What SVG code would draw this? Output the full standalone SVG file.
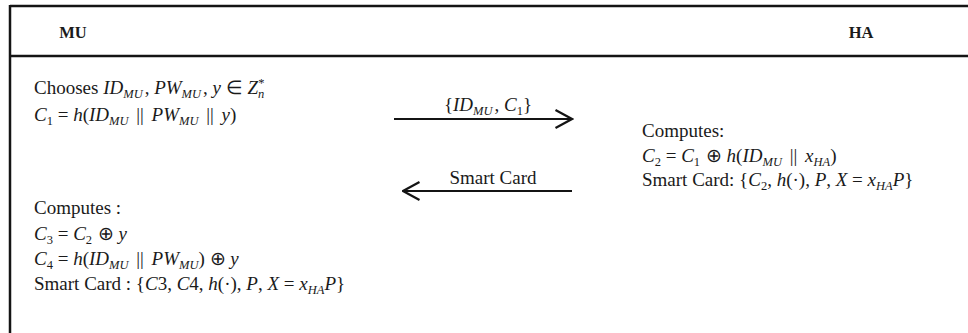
<svg xmlns="http://www.w3.org/2000/svg" width="968" height="333" viewBox="0 0 968 333">
  <defs>
    <style>
      .frame { stroke: #141414; stroke-width: 2.5; fill: none; }
      .t { font-family: "Liberation Serif", "Times New Roman", serif; font-size: 19px; fill: #1a1a1a; }
      .h { font-family: "Liberation Serif", "Times New Roman", serif; font-size: 16.5px; font-weight: bold; fill: #1a1a1a; }
      .i { font-style: italic; }
      .s { font-size: 12.5px; }
      .conn { stroke: #141414; stroke-width: 2.2; fill: none; }
    </style>
    <marker id="head" viewBox="0 0 20 22" refX="18.5" refY="11" markerWidth="20" markerHeight="22" markerUnits="userSpaceOnUse" orient="auto">
      <path d="M2 2 L18.5 11 L2 20" fill="none" stroke="#141414" stroke-width="2.2"/>
    </marker>
  </defs>

  <rect width="968" height="333" fill="#ffffff"/>

  <!-- table frame -->
  <g id="frame">
    <line class="frame" x1="10" y1="6" x2="968" y2="6"/>
    <line class="frame" x1="10" y1="56" x2="968" y2="56"/>
    <line class="frame" x1="10" y1="5" x2="10" y2="333"/>
  </g>

  <!-- column headers -->
  <g id="mu-header"><text class="h" x="73" y="38" text-anchor="middle">MU</text></g>
  <g id="ha-header"><text class="h" x="861" y="38" text-anchor="middle">HA</text></g>

  <!-- MU registration request -->
  <g id="mu-request">
    <text class="t" x="34" y="94">Chooses <tspan class="i">ID</tspan><tspan class="i s" dy="4">MU</tspan><tspan dy="-4" dx="2">, </tspan><tspan class="i">PW</tspan><tspan class="i s" dy="4">MU</tspan><tspan dy="-4" dx="2">, </tspan><tspan class="i">y</tspan> ∈ <tspan class="i">Z</tspan><tspan class="i s" dy="4">n</tspan><tspan class="s" dx="-6" dy="-11">*</tspan></text>
    <text class="t" x="34" y="121"><tspan class="i">C</tspan><tspan class="s" dy="4">1</tspan><tspan dy="-4"> = </tspan><tspan class="i">h</tspan>(<tspan class="i">ID</tspan><tspan class="i s" dy="4">MU</tspan><tspan dy="-4" dx="3"> || </tspan><tspan class="i" dx="3">PW</tspan><tspan class="i s" dy="4">MU</tspan><tspan dy="-4" dx="3"> || </tspan><tspan class="i" dx="3">y</tspan>)</text>
  </g>

  <!-- HA computation -->
  <g id="ha-compute">
    <text class="t" x="642" y="137">Computes:</text>
    <text class="t" x="642" y="162"><tspan class="i">C</tspan><tspan class="s" dy="4">2</tspan><tspan dy="-4"> = </tspan><tspan class="i">C</tspan><tspan class="s" dy="4">1</tspan><tspan dy="-4" dx="1"> ⊕ </tspan><tspan class="i">h</tspan>(<tspan class="i">ID</tspan><tspan class="i s" dy="4">MU</tspan><tspan dy="-4" dx="3"> || </tspan><tspan class="i" dx="3">x</tspan><tspan class="i s" dy="4">HA</tspan><tspan dy="-4">)</tspan></text>
    <text class="t" x="642" y="186">Smart Card: {<tspan class="i">C</tspan><tspan class="s" dy="4">2</tspan><tspan dy="-4">, </tspan><tspan class="i">h</tspan>(·), <tspan class="i">P</tspan>, <tspan class="i">X</tspan> = <tspan class="i">x</tspan><tspan class="i s" dy="4">HA</tspan><tspan class="i" dy="-4">P</tspan>}</text>
  </g>

  <!-- MU smart card update -->
  <g id="mu-update">
    <text class="t" x="34" y="214">Computes :</text>
    <text class="t" x="34" y="240"><tspan class="i">C</tspan><tspan class="s" dy="4">3</tspan><tspan dy="-4"> = </tspan><tspan class="i">C</tspan><tspan class="s" dy="4">2</tspan><tspan dy="-4" dx="1"> ⊕ </tspan><tspan class="i">y</tspan></text>
    <text class="t" x="34" y="265"><tspan class="i">C</tspan><tspan class="s" dy="4">4</tspan><tspan dy="-4"> = </tspan><tspan class="i">h</tspan>(<tspan class="i">ID</tspan><tspan class="i s" dy="4">MU</tspan><tspan dy="-4" dx="3"> || </tspan><tspan class="i" dx="3">PW</tspan><tspan class="i s" dy="4">MU</tspan><tspan dy="-4">) ⊕ </tspan><tspan class="i">y</tspan></text>
    <text class="t" x="34" y="290">Smart Card : {<tspan class="i">C</tspan>3, <tspan class="i">C</tspan>4, <tspan class="i">h</tspan>(·), <tspan class="i">P</tspan>, <tspan class="i">X</tspan> = <tspan class="i">x</tspan><tspan class="i s" dy="4">HA</tspan><tspan class="i" dy="-4">P</tspan>}</text>
  </g>

  <!-- message arrows -->
  <g id="connectors">
    <line class="conn" x1="394" y1="119" x2="572" y2="119" marker-end="url(#head)"/>
    <text class="t" x="488" y="111" text-anchor="middle">{<tspan class="i">ID</tspan><tspan class="i s" dy="4">MU</tspan><tspan dy="-4" dx="2">, </tspan><tspan class="i">C</tspan><tspan class="s" dy="4">1</tspan><tspan dy="-4">}</tspan></text>
    <line class="conn" x1="572" y1="191" x2="403" y2="191" marker-end="url(#head)"/>
    <text class="t" x="493" y="184" text-anchor="middle">Smart Card</text>
  </g>
</svg>
